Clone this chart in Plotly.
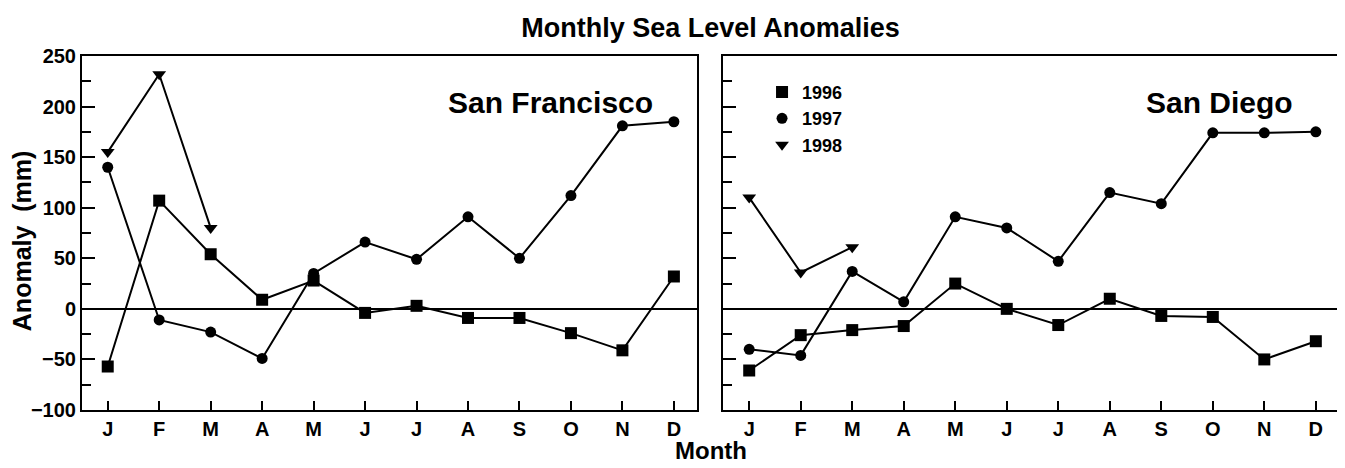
import plotly.graph_objects as go

months = ["J", "F", "M", "A", "M", "J", "J", "A", "S", "O", "N", "D"]
month_pos = list(range(1, 13))

# San Francisco
sf_1996 = [-57, 107, 54, 9, 28, -4, 3, -9, -9, -24, -41, 32]
sf_1997 = [140, -11, -23, -49, 35, 66, 49, 91, 50, 112, 181, 185]
sf_1998 = [155, 232, 80]

# San Diego
sd_1996 = [-61, -26, -21, -17, 25, 0, -16, 10, -7, -8, -50, -32]
sd_1997 = [-40, -46, 37, 7, 91, 80, 47, 115, 104, 174, 174, 175]
sd_1998 = [110, 36, 61]

years = ["1996", "1997", "1998"]
symbols = ["square", "circle", "triangle-down"]
msizes = [12, 11, 12]

FONT = "Liberation Sans, Arial, Helvetica, sans-serif"

fig = go.Figure()

def add_series(xa, ya, series):
    for vals, sym, ms in zip(series, symbols, msizes):
        fig.add_trace(go.Scatter(
            x=month_pos[:len(vals)], y=vals, mode="lines+markers",
            line=dict(color="black", width=2),
            marker=dict(symbol=sym, size=ms, color="black"),
            xaxis=xa, yaxis=ya, showlegend=False, hoverinfo="x+y"))

add_series("x", "y", [sf_1996, sf_1997, sf_1998])
add_series("x2", "y2", [sd_1996, sd_1997, sd_1998])

# legend-only entries
for name, sym, ms in zip(years, symbols, msizes):
    fig.add_trace(go.Scatter(
        x=[None], y=[None], mode="markers", name=name,
        marker=dict(symbol=sym, size=ms, color="black"),
        xaxis="x2", yaxis="y2", showlegend=True))

xcommon = dict(
    range=[0.5, 12.45], tickmode="array", tickvals=month_pos, ticktext=months,
    ticks="inside", ticklen=9, tickwidth=1.5, tickcolor="black",
    showline=True, linecolor="black", linewidth=2, mirror=True,
    showgrid=False, zeroline=False,
    tickfont=dict(family=FONT, size=20, color="black", weight="bold"),
)
ycommon = dict(
    range=[-100, 250], tickmode="linear", tick0=0, dtick=50,
    ticks="inside", ticklen=13, tickwidth=1.5, tickcolor="black",
    minor=dict(dtick=25, ticks="inside", ticklen=9, tickwidth=1.5, tickcolor="black"),
    showline=True, linecolor="black", linewidth=2, mirror=True,
    showgrid=False, zeroline=True, zerolinecolor="black", zerolinewidth=1.5,
    tickfont=dict(family=FONT, size=20, color="black", weight="bold"),
)

W, H = 1337, 460

fig.update_layout(
    width=W, height=H,
    margin=dict(l=74, r=4, t=48, b=58),
    plot_bgcolor="white", paper_bgcolor="white",
    font=dict(family=FONT, color="black"),
    xaxis=dict(domain=[0, 0.4893], anchor="y", **xcommon),
    yaxis=dict(domain=[0, 1], anchor="x", **ycommon),
    xaxis2=dict(domain=[0.5103, 1], anchor="y2", **xcommon),
    yaxis2=dict(domain=[0, 1], anchor="x2", showticklabels=False, **ycommon),
    title=dict(text="Monthly Sea Level Anomalies", x=0.5, xref="paper",
               xanchor="center", y=1 - 20 / H, yref="container", yanchor="middle",
               font=dict(family=FONT, size=27, color="black", weight="bold")),
    legend=dict(x=0.541, y=0.95, xanchor="left", yanchor="top",
                bgcolor="rgba(0,0,0,0)", borderwidth=0,
                font=dict(family=FONT, size=18, color="black", weight="bold"),
                itemwidth=30, tracegroupgap=0),
    showlegend=True,
)

fig.add_annotation(text="San Francisco", xref="paper", yref="paper",
                   x=0.3725, y=0.87, xanchor="center", yanchor="middle", showarrow=False,
                   font=dict(family=FONT, size=30, color="black", weight="bold"))
fig.add_annotation(text="San Diego", xref="paper", yref="paper",
                   x=0.9047, y=0.87, xanchor="center", yanchor="middle", showarrow=False,
                   font=dict(family=FONT, size=30, color="black", weight="bold"))
fig.add_annotation(text="Anomaly  (mm)", xref="paper", yref="paper",
                   x=-0.0477, y=0.477, xanchor="center", yanchor="middle", textangle=-90,
                   showarrow=False,
                   font=dict(family=FONT, size=25, color="black", weight="bold"))
fig.add_annotation(text="Month", xref="paper", yref="paper",
                   x=0.5, y=-0.115, xanchor="center", yanchor="middle", showarrow=False,
                   font=dict(family=FONT, size=24, color="black", weight="bold"))

fig.write_html("out.html")
